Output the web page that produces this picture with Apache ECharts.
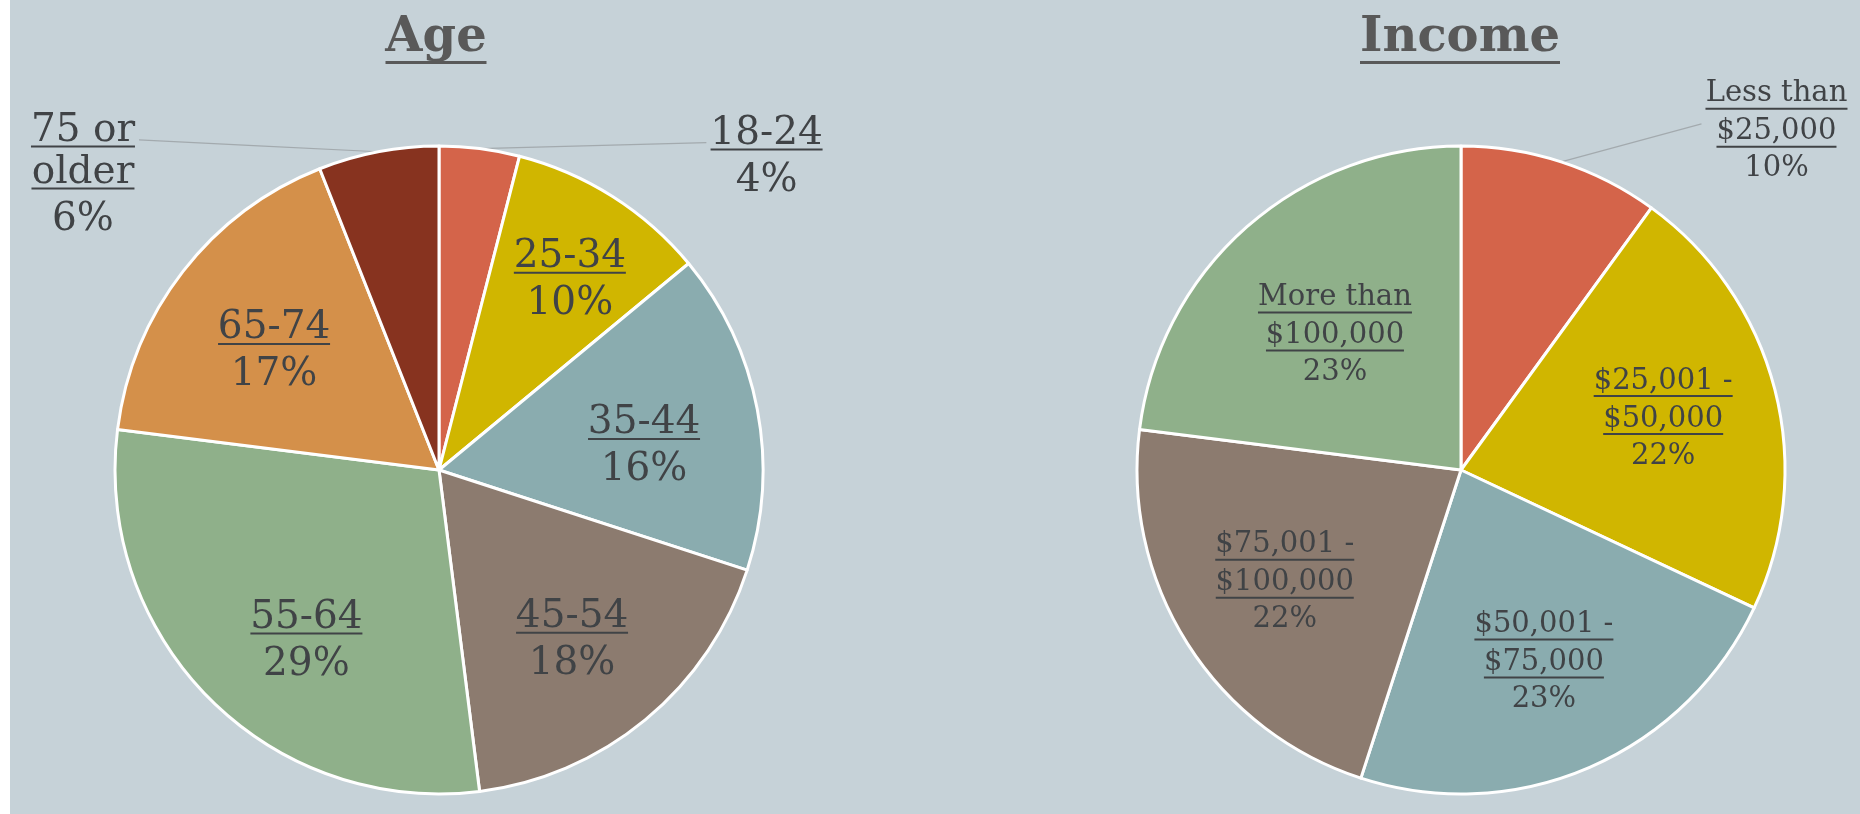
<!DOCTYPE html>
<html><head><meta charset="utf-8">
<script src="https://cdn.jsdelivr.net/npm/echarts@6/dist/echarts.min.js"></script>
<style>
html,body{margin:0;padding:0;background:#ffffff;}
#chart{position:absolute;left:10px;top:0;width:1850px;height:814px;background:#c6d2d8;}
</style></head><body><div id="chart"></div>
<script>
// ---- data ----
const titles = ['Age', 'Income'];
const ageCategories = ['18-24', '25-34', '35-44', '45-54', '55-64', '65-74', '75 or\nolder'];
const ageValues = [4, 10, 16, 18, 29, 17, 6];
const ageColors = ['#d4644a', '#d0b600', '#8aacaf', '#8c7b6f', '#8fb08a', '#d4904a', '#87331f'];
const incomeCategories = ['Less than\n$25,000', '$25,001 -\n$50,000', '$50,001 -\n$75,000', '$75,001 -\n$100,000', 'More than\n$100,000'];
const incomeValues = [10, 22, 23, 22, 23];
const incomeColors = ['#d4644a', '#d0b600', '#8aacaf', '#8c7b6f', '#8fb08a'];

// ---- styling / layout ----
const FONT = '"DejaVu Serif", serif';
const TEXT = '#404346';
const TITLE = '#595959';
const R = 324;
const LABEL_R = R * 1.27;
const LINE_STYLE = {color: '#a3aaae', width: 1.2};

const measureCtx = document.createElement('canvas').getContext('2d');
function textWidth(txt, size, weight) {
  measureCtx.font = (weight || 'normal') + ' ' + size + 'px ' + FONT;
  return Math.round(measureCtx.measureText(txt).width);
}

function buildLabels(prefix, categories, values, cfg) {
  const rich = {
    n: {fontFamily: FONT, fontSize: cfg.size, lineHeight: cfg.nameLH, color: TEXT, align: 'center'},
    p: {fontFamily: FONT, fontSize: cfg.size, lineHeight: cfg.pctLH, color: TEXT, align: 'center'}
  };
  const texts = categories.map((c, i) => {
    const lines = c.split('\n').map((line, j) => {
      const key = prefix + i + '_' + j;
      rich[key] = {width: textWidth(line, cfg.size), height: 2, lineHeight: cfg.ulLH,
        verticalAlign: 'top', backgroundColor: TEXT, align: 'center'};
      return '{n|' + line + '}\n{' + key + '|}';
    });
    return lines.join('\n') + '\n{p|' + values[i] + '%}';
  });
  return {rich, texts};
}

// straighten the leader line computed by the library (keep its two ends)
function straightLine(params) {
  const pts = params.labelLinePoints;
  if (!pts || pts.length < 3) return {};
  const a = pts[0], b = pts[pts.length - 1];
  return {labelLinePoints: [a, [(a[0] + b[0]) / 2, (a[1] + b[1]) / 2], b]};
}

function makeSeries(prefix, center, categories, values, colors, cfg, outside, insidePad) {
  const lab = buildLabels(prefix, categories, values, cfg);
  const fmt = p => lab.texts[p.dataIndex];
  const slices = {
    type: 'pie', center: center, radius: R, startAngle: 90, clockwise: true,
    avoidLabelOverlap: false, silent: true, animation: false,
    itemStyle: {borderColor: '#ffffff', borderWidth: 3},
    label: {show: false, formatter: fmt, rich: lab.rich, lineHeight: 4},
    labelLine: {show: false},
    labelLayout: straightLine,
    emphasis: {disabled: true},
    data: categories.map((c, i) => {
      const d = {name: c, value: values[i], itemStyle: {color: colors[i]}};
      const o = outside[i];
      if (o) {
        d.label = {show: true, position: 'outside', padding: o.padding, distanceToLabelLine: 4};
        d.labelLine = {show: true, length: o.length, length2: o.length2, lineStyle: LINE_STYLE};
      }
      return d;
    })
  };
  const labels = {
    type: 'pie', center: center, radius: LABEL_R, startAngle: 90, clockwise: true,
    avoidLabelOverlap: false, silent: true, animation: false,
    itemStyle: {color: 'rgba(0,0,0,0)', borderWidth: 0},
    label: {show: true, position: 'inside', formatter: fmt, rich: lab.rich, lineHeight: 4,
      padding: insidePad.def},
    labelLine: {show: false},
    emphasis: {disabled: true},
    data: categories.map((c, i) => {
      const d = {name: c, value: values[i]};
      if (outside[i]) d.label = {show: false};
      else if (insidePad[i]) d.label = {padding: insidePad[i]};
      return d;
    })
  };
  return [slices, labels];
}

function makeTitle(text, x) {
  return {
    text: '{t|' + text + '}\n{u|}', left: x, top: 17, textAlign: 'center', padding: 0,
    textStyle: {rich: {
      t: {fontFamily: FONT, fontSize: 48, fontWeight: 'bold', lineHeight: 44, color: TITLE, align: 'center'},
      u: {width: textWidth(text, 48, 'bold'), height: 3, lineHeight: 8, verticalAlign: 'top',
        backgroundColor: TITLE, align: 'center'}
    }}
  };
}

const ageCenter = [429, 470];
const incomeCenter = [1451, 470];
const ageCfg = {size: 39, nameLH: 30, ulLH: 12, pctLH: 40};
const incomeCfg = {size: 29, nameLH: 28, ulLH: 10, pctLH: 26};

const ageOutside = {
  0: {length: 6, length2: 226, padding: [34, 0, 0, 0]},
  6: {length: 12, length2: 237, padding: [75, 0, 0, 0]}
};
const ageInsidePad = {def: [24, 0, 0, 0], 1: [0, 0, 22, 38], 2: [36, 0, 0, 0], 4: [52, 0, 0, 30]};
const incomeOutside = {
  0: {length: 40, length2: 128, padding: [14, 0, 0, 0]}
};
const incomeInsidePad = {def: [0, 0, 0, 0], 4: [42, 0, 0, 24]};

const chart = echarts.init(document.getElementById('chart'));
chart.setOption({
  backgroundColor: '#c6d2d8',
  animation: false,
  title: [makeTitle(titles[0], 426), makeTitle(titles[1], 1450)],
  series: [].concat(
    makeSeries('a', ageCenter, ageCategories, ageValues, ageColors, ageCfg, ageOutside, ageInsidePad),
    makeSeries('b', incomeCenter, incomeCategories, incomeValues, incomeColors, incomeCfg, incomeOutside, incomeInsidePad)
  )
});
</script></body></html>
